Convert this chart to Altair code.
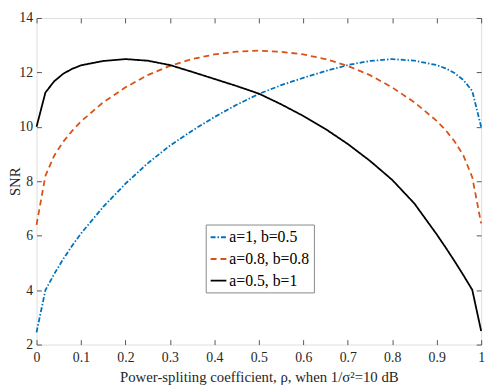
import altair as alt
import pandas as pd

series_names = ["a=1, b=0.5", "a=0.8, b=0.8", "a=0.5, b=1"]
colors = ["#0072BD", "#D95319", "#000000"]
dashes = [[5, 2, 1.5, 2], [6, 4], [1, 0]]

rho_blue = [0, 0.02, 0.04, 0.06, 0.08, 0.10, 0.15, 0.20, 0.25, 0.30, 0.35, 0.40, 0.45, 0.50,
            0.55, 0.60, 0.65, 0.70, 0.75, 0.80, 0.85, 0.90, 0.92, 0.94, 0.96, 0.98, 1.0]
snr_blue = [2.45, 4.0, 4.6, 5.14, 5.63, 6.08, 7.06, 7.91, 8.66, 9.31, 9.86, 10.36, 10.81, 11.21,
            11.53, 11.8, 12.05, 12.27, 12.42, 12.49, 12.43, 12.27, 12.15, 11.98, 11.72, 11.32, 10.0]

rho_orange = [0, 0.02, 0.04, 0.06, 0.08, 0.10, 0.15, 0.20, 0.25, 0.30, 0.35, 0.40, 0.45, 0.50,
              0.55, 0.60, 0.65, 0.70, 0.75, 0.80, 0.85, 0.90, 0.92, 0.94, 0.96, 0.98, 1.0]
snr_orange = [6.4, 8.2, 8.95, 9.45, 9.85, 10.2, 10.9, 11.45, 11.9, 12.24, 12.49, 12.66, 12.76, 12.8,
              12.76, 12.66, 12.49, 12.24, 11.9, 11.45, 10.9, 10.22, 9.88, 9.47, 8.95, 8.15, 6.45]

rho_black = [0, 0.02, 0.04, 0.06, 0.08, 0.10, 0.15, 0.20, 0.25, 0.30, 0.35, 0.40, 0.45, 0.50,
             0.55, 0.60, 0.65, 0.70, 0.75, 0.80, 0.85, 0.90, 0.92, 0.94, 0.96, 0.98, 1.0]
snr_black = [10.0, 11.26, 11.68, 11.95, 12.13, 12.26, 12.42, 12.49, 12.43, 12.27, 12.02, 11.76, 11.5, 11.22,
             10.83, 10.4, 9.92, 9.37, 8.75, 8.05, 7.18, 6.05, 5.57, 5.07, 4.55, 4.01, 2.5]

x_ticks = [0, 0.1, 0.2, 0.3, 0.4, 0.5, 0.6, 0.7, 0.8, 0.9, 1]
y_ticks = [2, 4, 6, 8, 10, 12, 14]

rows = []
for name, xs, ys in zip(series_names,
                        [rho_blue, rho_orange, rho_black],
                        [snr_blue, snr_orange, snr_black]):
    for x, y in zip(xs, ys):
        rows.append({"series": name, "rho": x, "snr": y})
df = pd.DataFrame(rows)

W, H = 452, 332
FONT = "Liberation Serif"
AX = "#555555"
TXT = "#262626"

xscale = alt.Scale(domain=[0, 1], nice=False, zero=False)
yscale = alt.Scale(domain=[2, 14], nice=False, zero=False)

legend = alt.Legend(
    title=None, orient="none", legendX=172, legendY=210,
    symbolType="stroke", symbolSize=256, symbolStrokeWidth=2,
    labelFont=FONT, labelFontSize=16, labelColor="#000000",
    strokeColor="#888888", fillColor="white", padding=4, rowPadding=5,
    labelOffset=2,
)

base = alt.Chart(df)

lines = base.mark_line(strokeWidth=1.8).encode(
    x=alt.X("rho:Q", scale=xscale, axis=alt.Axis(
        orient="bottom", values=x_ticks, format="~g", ticks=False, domain=False, grid=False,
        labelFont=FONT, labelFontSize=14, labelColor=TXT, labelPadding=6,
        title="Power-spliting coefficient, ρ, when 1/σ²=10 dB",
        titleFont=FONT, titleFontSize=15, titleFontWeight="normal", titleColor=TXT, titlePadding=6,
        labelFlush=False)),
    y=alt.Y("snr:Q", scale=yscale, axis=alt.Axis(
        orient="left", values=y_ticks, ticks=False, domain=False, grid=False,
        labelFont=FONT, labelFontSize=14, labelColor=TXT, labelPadding=4,
        title="SNR", titleFont=FONT, titleFontSize=15, titleFontWeight="normal",
        titleColor=TXT, titleX=-17, titleY=H / 2, titleBaseline="alphabetic",
        titleAngle=270, titleAlign="center", labelFlush=False)),
    color=alt.Color("series:N", scale=alt.Scale(domain=series_names, range=colors), legend=legend),
    strokeDash=alt.StrokeDash("series:N", scale=alt.Scale(domain=series_names, range=dashes), legend=legend),
)

tick_common = dict(labels=False, domain=False, grid=False, ticks=True, tickSize=5,
                   tickColor=AX, tickWidth=1, title=None)

ticks_a = base.mark_point(opacity=0).encode(
    x=alt.X("rho:Q", scale=xscale, axis=alt.Axis(orient="top", offset=-H, values=x_ticks, **tick_common)),
    y=alt.Y("snr:Q", scale=yscale, axis=alt.Axis(orient="right", offset=-W, values=y_ticks, **tick_common)),
)
ticks_b = base.mark_point(opacity=0).encode(
    x=alt.X("rho:Q", scale=xscale, axis=alt.Axis(orient="bottom", offset=-H, values=x_ticks, **tick_common)),
    y=alt.Y("snr:Q", scale=yscale, axis=alt.Axis(orient="left", offset=-W, values=y_ticks, **tick_common)),
)

chart = alt.layer(lines, ticks_a, ticks_b).resolve_axis(
    x="independent", y="independent"
).properties(
    width=W, height=H, autosize="none",
    padding={"left": 29, "top": 7, "right": 9, "bottom": 40},
).configure_view(
    stroke=AX, strokeWidth=1
).configure(background="white", font=FONT)

chart.save("out.html", embed_options={"renderer": "svg", "actions": False})
